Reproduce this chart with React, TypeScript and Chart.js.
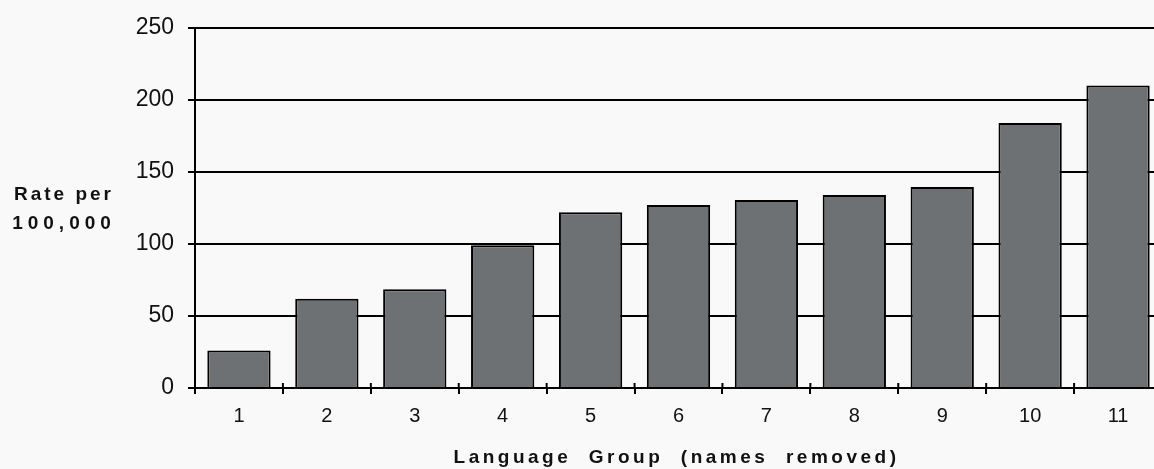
import React, { useEffect, useRef } from "react";
import { Chart, registerables } from "chart.js";

Chart.register(...registerables);

const categories = ["1", "2", "3", "4", "5", "6", "7", "8", "9", "10", "11"];
const rates = [26, 62, 68.5, 99, 122, 127, 130.5, 134, 139.5, 184, 210];
const yMin = 0;
const yMax = 250;
const yStep = 50;
const yTitleLines = ["Rate per", "100,000"];
const xTitle = "Language  Group  (names  removed)";

const FONT = "'Liberation Sans', Arial, Helvetica, sans-serif";

const decorPlugin = {
  id: "decor",
  beforeDraw(chart: any) {
    const { ctx, width, height } = chart;
    ctx.save();
    ctx.fillStyle = "#f9f9fa";
    ctx.fillRect(0, 0, width, height);
    ctx.restore();
  },
  afterDraw(chart: any) {
    const { ctx, chartArea } = chart;
    const xScale = chart.scales.x;
    ctx.save();
    // upward half of the crossing category ticks
    ctx.strokeStyle = "#000";
    ctx.lineWidth = 2;
    for (let i = 1; i < categories.length; i++) {
      const px = (xScale.getPixelForTick(i - 1) + xScale.getPixelForTick(i)) / 2;
      ctx.beginPath();
      ctx.moveTo(px, chartArea.bottom);
      ctx.lineTo(px, chartArea.bottom - 5);
      ctx.stroke();
    }
    // y axis title (horizontal, two lines)
    ctx.fillStyle = "#111";
    ctx.font = `bold 19px ${FONT}`;
    (ctx as any).letterSpacing = "3px";
    ctx.textAlign = "center";
    ctx.textBaseline = "middle";
    const midY = (chartArea.top + chartArea.bottom) / 2;
    ctx.fillText(yTitleLines[0], 64, midY - 13);
    (ctx as any).letterSpacing = "5px";
    ctx.fillText(yTitleLines[1], 64, midY + 16);
    // x axis title
    ctx.font = `bold 19px ${FONT}`;
    (ctx as any).letterSpacing = "3.5px";
    ctx.fillText(xTitle, (chartArea.left + chartArea.right) / 2 - 2, chartArea.bottom + 70);
    ctx.restore();
  },
};

export default function App() {
  const ref = useRef<HTMLCanvasElement | null>(null);

  useEffect(() => {
    if (!ref.current) return;
    const chart = new Chart(ref.current, {
      type: "bar",
      data: {
        labels: categories,
        datasets: [
          {
            data: rates,
            backgroundColor: "#6e7174",
            borderColor: "#000",
            borderWidth: 2,
            barPercentage: 0.72,
            categoryPercentage: 1.0,
          },
        ],
      },
      options: {
        responsive: false,
        animation: false,
        layout: { padding: { top: 24, right: 4, left: 0, bottom: 0 } },
        plugins: {
          legend: { display: false },
          tooltip: { enabled: false },
          title: { display: false },
        },
        scales: {
          x: {
            grid: {
              offset: true,
              drawOnChartArea: false,
              drawTicks: true,
              tickLength: 6,
              color: "#000",
              lineWidth: 2,
            },
            border: { display: true, color: "#000", width: 2 },
            ticks: {
              color: "#111",
              font: { family: FONT, size: 20 },
              padding: 10,
            },
            afterFit: (scale: any) => {
              scale.height = 81;
            },
          },
          y: {
            min: yMin,
            max: yMax,
            ticks: {
              stepSize: yStep,
              color: "#111",
              font: { family: FONT, size: 23 },
              padding: 14,
            },
            grid: {
              color: "#000",
              lineWidth: 2,
              tickLength: 7,
            },
            border: { display: true, color: "#000", width: 2 },
            afterFit: (scale: any) => {
              scale.width = 195;
            },
          },
        },
      },
      plugins: [decorPlugin],
    });
    return () => chart.destroy();
  }, []);

  return (
    <div
      style={{
        position: "fixed",
        left: 0,
        top: 0,
        width: 1154,
        height: 469,
        overflow: "hidden",
        background: "#f9f9fa",
      }}
    >
      <canvas ref={ref} width={1166} height={469} style={{ display: "block" }} />
    </div>
  );
}
